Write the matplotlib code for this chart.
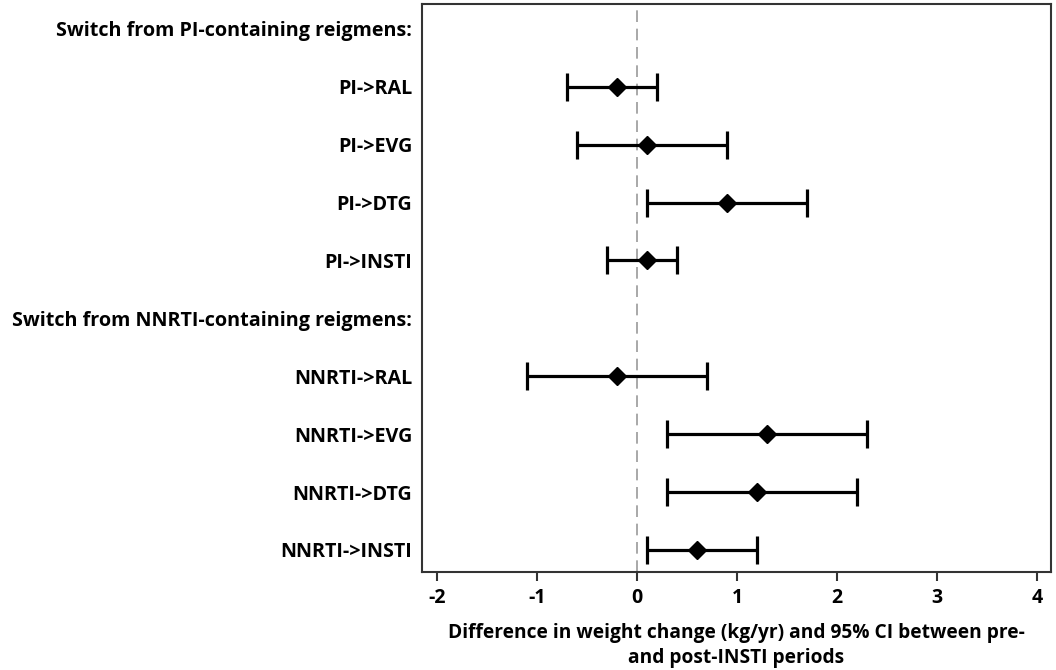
import matplotlib
matplotlib.use("Agg")
import matplotlib.pyplot as plt
import numpy as np

plt.rcParams['font.family'] = ['Open Sans', 'DejaVu Sans']
plt.rcParams['font.weight'] = 'bold'

row_labels = ["Switch from PI-containing reigmens:", "PI->RAL", "PI->EVG", "PI->DTG", "PI->INSTI",
              "Switch from NNRTI-containing reigmens:", "NNRTI->RAL", "NNRTI->EVG", "NNRTI->DTG", "NNRTI->INSTI"]
estimates = [None, -0.2, 0.1, 0.9, 0.1, None, -0.2, 1.3, 1.2, 0.6]
ci_low = [None, -0.7, -0.6, 0.1, -0.3, None, -1.1, 0.3, 0.3, 0.1]
ci_high = [None, 0.2, 0.9, 1.7, 0.4, None, 0.7, 2.3, 2.2, 1.2]
x_ticks = [-2, -1, 0, 1, 2, 3, 4]
x_label = "Difference in weight change (kg/yr) and 95% CI between pre-\nand post-INSTI periods"

fig = plt.figure(figsize=(10.56, 6.70), dpi=100)
ax = fig.add_axes([0.3996, 0.1463, 0.5957, 0.8477])

ax.axvline(0, color='#999999', lw=1.2, ls=(0, (7, 4)), zorder=1)

for i, (e, lo, hi) in enumerate(zip(estimates, ci_low, ci_high)):
    if e is None:
        continue
    ax.errorbar([e], [i], xerr=[[e - lo], [hi - e]], fmt='D', color='black',
                ms=9.5, lw=2.3, capsize=10, capthick=2.3, zorder=3)

ax.set_ylim(9.38, -0.43)
ax.set_xlim(-2.15, 4.14)
ax.set_yticks(range(len(row_labels)))
ax.set_yticklabels(row_labels, fontsize=14.2, fontweight='bold')
ax.tick_params(axis='y', length=0, pad=7)
ax.set_xticks(x_ticks)
ax.set_xticklabels([str(t) for t in x_ticks], fontsize=14, fontweight='bold')
ax.tick_params(axis='x', length=6.5, width=1.5, direction='out', pad=5, color='#333333')
ax.set_xlabel(x_label, fontsize=13.8, fontweight='bold', labelpad=11, linespacing=1.3)
for s in ax.spines.values():
    s.set_linewidth(1.5)
    s.set_color('#333333')

fig.savefig('out.png', dpi=100)
